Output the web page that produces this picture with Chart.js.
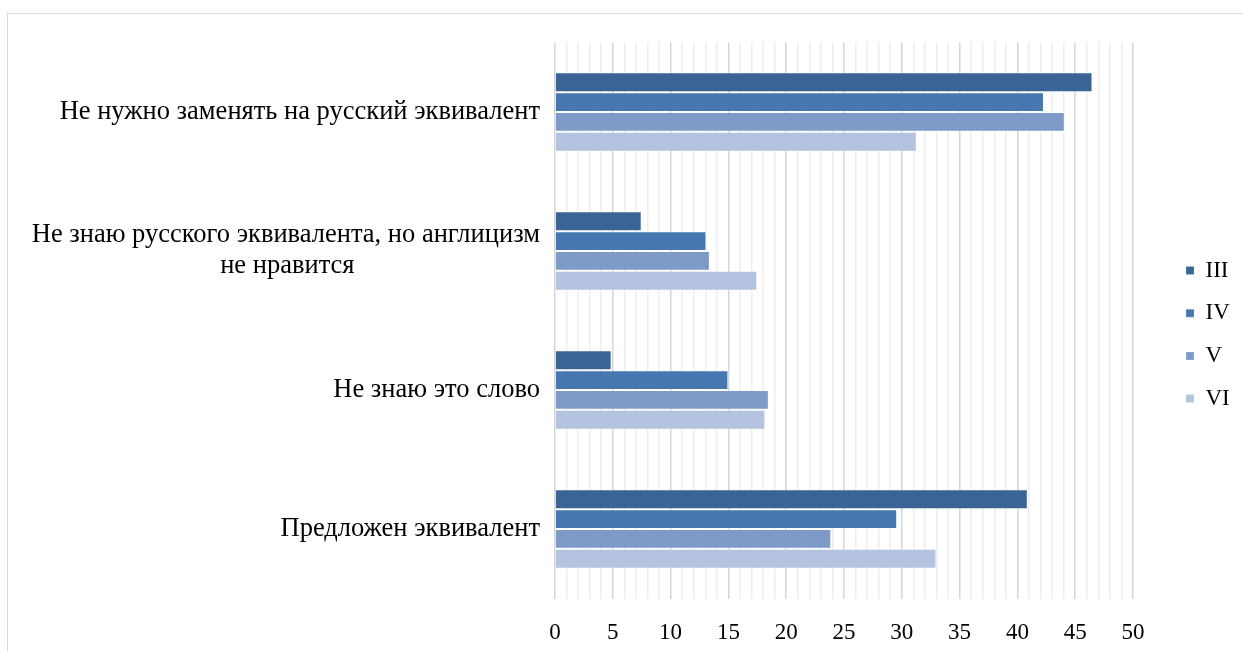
<!DOCTYPE html>
<html>
<head>
<meta charset="utf-8">
<script src="https://cdn.jsdelivr.net/npm/chart.js@4.4.1/dist/chart.umd.min.js"></script>
<style>
  html, body { margin: 0; padding: 0; background: #fff; overflow: hidden; }
  #frame { position: absolute; left: 7px; top: 13px; width: 1300px; height: 700px; border-left: 1px solid #d9d9d9; border-top: 1px solid #d9d9d9; }
  #wrap { position: absolute; left: 0; top: 0; width: 1243px; height: 651px; }
</style>
</head>
<body>
<div id="frame"></div>
<div id="wrap"><canvas id="c" width="1243" height="651"></canvas></div>
<script>
const categories = [
  ["Не нужно заменять на русский эквивалент"],
  ["Не знаю русского эквивалента, но англицизм", "не нравится"],
  ["Не знаю это слово"],
  ["Предложен эквивалент"]
];
const seriesNames = ["III", "IV", "V", "VI"];
const seriesIII = [46.5, 7.5, 4.9, 40.9];
const seriesIV  = [42.3, 13.1, 15.0, 29.6];
const seriesV   = [44.1, 13.4, 18.5, 23.9];
const seriesVI  = [31.3, 17.5, 18.2, 33.0];
const xTickLabels = [0, 5, 10, 15, 20, 25, 30, 35, 40, 45, 50];

const colors = ["#3b6496", "#4777b0", "#7e9bc8", "#b4c3df"];
const FONT = '"Liberation Serif", "Times New Roman", serif';
const CAT_SIZE = 26.5;

// center second lines of multi-line labels under the first line (right-aligned axis)
const mctx = document.createElement('canvas').getContext('2d');
mctx.font = CAT_SIZE + 'px ' + FONT;
const sp = mctx.measureText('\u00A0').width;
const labels = categories.map(lines => {
  if (lines.length < 2) return lines[0];
  const w0 = mctx.measureText(lines[0]).width;
  return lines.map((l, i) => {
    if (i === 0) return l;
    const n = Math.round((w0 - mctx.measureText(l).width) / 2 / sp);
    return l + '\u00A0'.repeat(Math.max(0, n));
  });
});

const allSeries = [seriesIII, seriesIV, seriesV, seriesVI];

const legendPlace = {
  id: 'legendPlace',
  beforeLayout(chart) {
    const lg = chart.legend;
    if (lg && !lg._patched) {
      const orig = lg.fit.bind(lg);
      lg.fit = function () { orig(); this.width = 110; };
      lg._patched = true;
    }
  },
  afterLayout(chart) {
    const lg = chart.legend;
    if (!lg) return;
    const pad = lg.options.labels.padding;
    const dx = 1186 - (lg.left + pad);
    lg.left += dx; lg.right += dx;
    const colH = lg.columnSizes && lg.columnSizes[0] ? lg.columnSizes[0].height : 170;
    const y0 = 259;
    lg.top = y0 - pad;
    lg.bottom = y0 + colH;
  }
};

new Chart(document.getElementById('c'), {
  type: 'bar',
  data: {
    labels: labels,
    datasets: seriesNames.map((n, i) => ({
      label: n,
      data: allSeries[i],
      backgroundColor: colors[i],
      borderColor: 'rgba(255,255,255,0.18)',
      borderWidth: 1,
      categoryPercentage: 0.571,
      barPercentage: 1.0
    }))
  },
  options: {
    indexAxis: 'y',
    responsive: false,
    animation: false,
    devicePixelRatio: 1,
    layout: { padding: { top: 42.5, left: 0, right: 0, bottom: 0 } },
    plugins: {
      legend: {
        position: 'right',
        labels: {
          boxWidth: 8,
          boxHeight: 8,
          padding: 19.7,
          color: '#000',
          font: { family: FONT, size: 23 }
        }
      },
      tooltip: { enabled: false }
    },
    scales: {
      x: {
        min: 0, max: 50,
        border: { display: false },
        grid: {
          drawTicks: false,
          color: c => (c.tick && c.tick.value % 5 === 0) ? '#d6d6d6' : '#eeeeee',
          lineWidth: 1.5
        },
        ticks: {
          stepSize: 1,
          autoSkip: false,
          maxRotation: 0,
          padding: 21,
          color: '#000',
          font: { family: FONT, size: 23 },
          callback: v => xTickLabels.includes(v) ? String(v) : ''
        },
        afterFit(s) { s.height = 52.5; }
      },
      y: {
        border: { display: false },
        grid: { display: false, drawTicks: false },
        ticks: {
          padding: 15,
          color: '#000',
          font: { family: FONT, size: CAT_SIZE, lineHeight: 1.17 }
        },
        afterFit(s) { s.width = 555; }
      }
    }
  },
  plugins: [legendPlace]
});
</script>
</body>
</html>
